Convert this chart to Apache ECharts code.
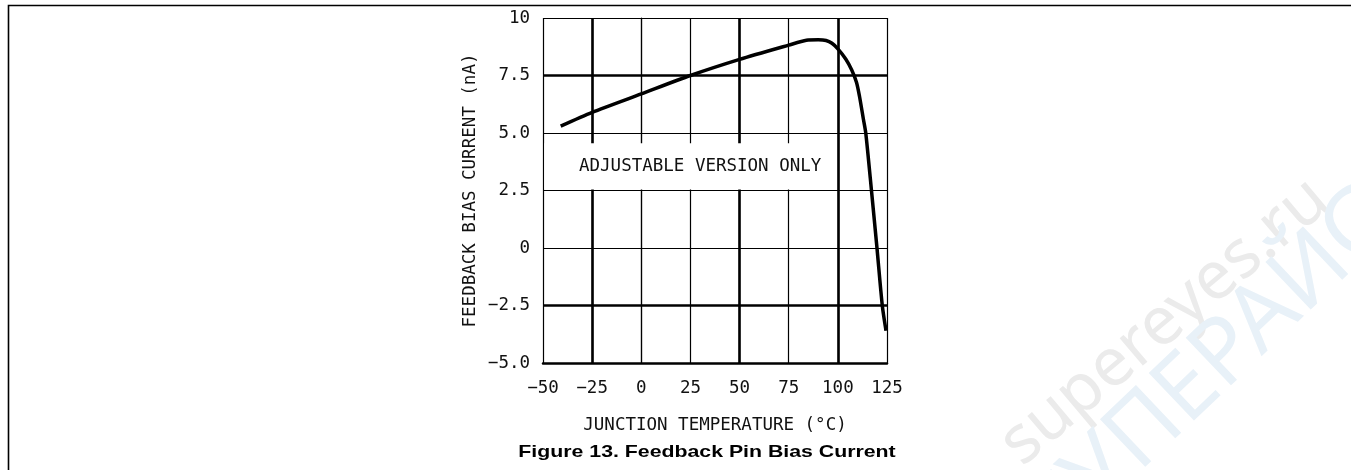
<!DOCTYPE html>
<html>
<head>
<meta charset="utf-8">
<script src="https://cdn.jsdelivr.net/npm/echarts@6/dist/echarts.min.js"></script>
<style>
  html, body { margin: 0; padding: 0; background: #fff; }
  #chart { width: 1351px; height: 470px; }
</style>
</head>
<body>
<div id="chart"></div>
<script>
// curve: [temperature degC, bias current nA]
var temps = [-41, -25, 0, 25, 50, 75, 84, 90, 94, 97, 100, 104, 107, 109.5, 111, 113, 114.2, 117.1, 119.9, 122.6, 124.5];
var current = [5.3, 5.9, 6.7, 7.5, 8.2, 8.82, 9.03, 9.05, 9.02, 8.9, 8.66, 8.22, 7.75, 7.2, 6.6, 5.6, 5.0, 2.5, 0, -2.5, -3.6];

var xTickLabels = ['\u221250', '\u221225', '0', '25', '50', '75', '100', '125'];
var yTickLabels = ['\u22125.0', '\u22122.5', '0', '2.5', '5.0', '7.5', '10'];
var thickX = [-25, 50, 100];
var thickY = [7.5, -2.5];
var noteBox = [[-49.3, 4.55], [98, 2.54]];
var noteText = 'ADJUSTABLE VERSION ONLY';

var xMin = -50, xMax = 125, xStep = 25;
var yMin = -5, yMax = 10, yStep = 2.5;
var font = '"DejaVu Sans Mono", monospace';

var chart = echarts.init(document.getElementById('chart'));

var marks = [];
thickX.forEach(function (v) { marks.push({ xAxis: v }); });
thickY.forEach(function (v) { marks.push({ yAxis: v }); });

chart.setOption({
  animation: false,
  grid: { left: 543, top: 18, width: 344, height: 345 },
  xAxis: {
    type: 'value', min: xMin, max: xMax, interval: xStep,
    name: 'JUNCTION TEMPERATURE (\u00b0C)',
    nameLocation: 'middle', nameGap: 53,
    nameTextStyle: { color: '#111', fontFamily: font, fontSize: 17.5 },
    axisLine: { onZero: false, lineStyle: { color: '#000', width: 2.5 } },
    axisTick: { show: false },
    axisLabel: {
      margin: 16, color: '#111', fontFamily: font, fontSize: 17.5,
      formatter: function (v) { return xTickLabels[Math.round((v - xMin) / xStep)]; }
    },
    splitLine: { show: true, lineStyle: { color: '#000', width: 1.2 } }
  },
  yAxis: {
    type: 'value', min: yMin, max: yMax, interval: yStep,
    name: 'FEEDBACK BIAS CURRENT (nA)',
    nameLocation: 'middle', nameGap: 64,
    nameTextStyle: { color: '#111', fontFamily: font, fontSize: 17.5 },
    axisLine: { show: true, lineStyle: { color: '#000', width: 1.2 } },
    axisTick: { show: false },
    axisLabel: {
      margin: 13, color: '#111', fontFamily: font, fontSize: 17.5,
      formatter: function (v) { return yTickLabels[Math.round((v - yMin) / yStep)]; }
    },
    splitLine: { show: true, lineStyle: { color: '#000', width: 1.2 } }
  },
  series: [{
    type: 'line',
    z: 3,
    data: temps.map(function (t, i) { return [t, current[i]]; }),
    showSymbol: false,
    smooth: 0.25,
    lineStyle: { color: '#000', width: 3.5 },
    markLine: {
      z: 1,
      silent: true,
      symbol: ['none', 'none'],
      label: { show: false },
      lineStyle: { color: '#000', width: 2.6, type: 'solid' },
      data: marks
    },
    markArea: {
      z: 2,
      silent: true,
      itemStyle: { color: '#fff', opacity: 1 },
      label: {
        show: true, position: 'inside', offset: [11, 0],
        color: '#111', fontFamily: font, fontSize: 17.5
      },
      data: [[{ name: noteText, coord: noteBox[0] }, { coord: noteBox[1] }]]
    }
  }],
  graphic: [
    {
      type: 'polyline', z: 10, silent: true,
      shape: { points: [[1351, 5.5], [8.5, 5.5], [8.5, 470]] },
      style: { stroke: '#000', lineWidth: 1.6, fill: null }
    },
    {
      type: 'text', z: 10, x: 707, y: 452, scaleX: 1.29,
      style: {
        text: 'Figure 13. Feedback Pin Bias Current',
        font: 'bold 16.5px "Liberation Sans", Arial, sans-serif',
        fill: '#000', textAlign: 'center', textVerticalAlign: 'middle'
      }
    },
    {
      type: 'text', z: -1, x: 1165, y: 322, rotation: 0.7, silent: true,
      style: {
        text: 'supereyes.ru',
        font: '67px "Noto Sans", sans-serif',
        fill: '#ebebeb', textAlign: 'center', textVerticalAlign: 'middle'
      }
    },
    {
      type: 'text', z: -1, x: 1208, y: 371, rotation: 0.76, silent: true,
      style: {
        text: '\u0421\u0423\u041f\u0415\u0420\u0410\u0419\u0421',
        font: '92px "Noto Sans", sans-serif',
        fill: '#e8f1f8', textAlign: 'center', textVerticalAlign: 'middle'
      }
    }
  ]
});
</script>
</body>
</html>
